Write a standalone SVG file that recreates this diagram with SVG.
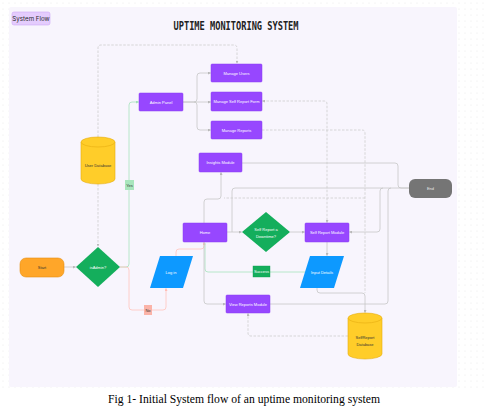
<svg xmlns="http://www.w3.org/2000/svg" width="487" height="414" viewBox="0 0 487 414">
<defs>
<pattern id="dots" x="0" y="0" width="6" height="6" patternUnits="userSpaceOnUse">
<circle cx="3" cy="3" r="0.5" fill="#e2e2e2"/>
</pattern>
<marker id="ah" viewBox="0 0 6 6" refX="5" refY="3" markerWidth="3" markerHeight="3" orient="auto-start-reverse" markerUnits="userSpaceOnUse">
<path d="M0,0 L6,3 L0,6 z" fill="#b8b8b8"/>
</marker>
<marker id="ahg" viewBox="0 0 6 6" refX="5" refY="3" markerWidth="3" markerHeight="3" orient="auto" markerUnits="userSpaceOnUse">
<path d="M0,0 L6,3 L0,6 z" fill="#9fe0b7"/>
</marker>
<marker id="ahp" viewBox="0 0 6 6" refX="5" refY="3" markerWidth="3" markerHeight="3" orient="auto" markerUnits="userSpaceOnUse">
<path d="M0,0 L6,3 L0,6 z" fill="#ffbdb5"/>
</marker>
</defs>
<style>
.lbl{font-family:"Liberation Sans",Arial,sans-serif;font-size:4px;text-anchor:middle;dominant-baseline:central}
.w{fill:#ffffff}
.d{fill:#333333}
.proc{fill:#9747ff;stroke:#8a3cf0;stroke-width:0.5}
.dec{fill:#14ae5c}
.io{fill:#0d99ff}
.db{fill:#ffcd29;stroke:#e5ad10;stroke-width:0.6}
.c{fill:none;stroke:#c6c6c6;stroke-width:0.8}
.dash{fill:none;stroke:#cdcdcd;stroke-width:0.8;stroke-dasharray:2.5,1.5}
.cg{fill:none;stroke:#a6e3bd;stroke-width:0.8}
.cp{fill:none;stroke:#ffc4bd;stroke-width:0.8}
</style>
<rect x="0" y="0" width="487" height="392" fill="url(#dots)"/>
<rect x="9" y="7" width="448" height="380" rx="2" fill="#f8f5fd"/>

<g id="title">
<text x="236" y="30" font-family="DejaVu Sans Mono,Liberation Mono,monospace" font-weight="bold" font-size="12" fill="#222" text-anchor="middle" textLength="125" lengthAdjust="spacingAndGlyphs">UPTIME MONITORING SYSTEM</text>
</g>
<g id="section-label">
<rect x="12" y="12" width="38" height="13" rx="2" fill="#e4ccfd" stroke="#cfa8f7" stroke-width="0.6"/>
<text x="31" y="18.7" font-family="Inter,Liberation Sans,sans-serif" font-size="6.2" fill="#2a2a2a" text-anchor="middle" dominant-baseline="central">System Flow</text>
</g>

<g id="connectors">
<path class="dash" d="M98,137 V48 Q98,45 101,45 H234 Q237,45 237,48 V63" marker-end="url(#ah)"/>
<path class="dash" d="M98,184 V246" marker-end="url(#ah)"/>
<path class="c" d="M64,267 H75.5" marker-end="url(#ah)"/>
<path class="cg" d="M120,267 H126 Q129,267 129,264 V105 Q129,102 132,102 H138.5" marker-end="url(#ahg)"/>
<path class="cp" d="M120,267 H126 Q129,267 129,270 V307 Q129,310 132,310 H163 Q166,310 166,307 V288.5" marker-end="url(#ahp)"/>
<path class="cp" d="M176,256 V252 Q176,249 179,249 H201 Q204,249 204,246 V242.5" marker-end="url(#ahp)"/>
<path class="c" d="M183,102 H194 Q197,102 197,99 V76 Q197,73 200,73 H210.5" marker-end="url(#ah)"/>
<path class="c" d="M183,102 H210.5" marker-end="url(#ah)"/>
<path class="c" d="M194,102 Q197,102 197,105 V127 Q197,130 200,130 H210.5" marker-end="url(#ah)"/>
<path class="c" d="M204,223 V202 Q204,199 207,199 H218 Q221,199 221,196 V172.5" marker-end="url(#ah)"/>
<path class="c" d="M227,232 H241.5" marker-end="url(#ah)"/>
<path class="c" d="M232,232 V191 Q232,188 235,188 H409"/>
<path class="c" d="M242,163 H395 Q398,163 398,166 V185 Q398,188 401,188 H409"/>
<path class="c" d="M383,188 Q380,188 380,191 V229 Q380,232 377,232 H349.5" marker-end="url(#ah)"/>
<path class="c" d="M270,304 H385 Q388,304 388,301 V191 Q388,188 391,188"/>
<path class="c" d="M290,232 H304.5" marker-end="url(#ah)"/>
<path class="c" d="M327,242 V255.5" marker-end="url(#ah)"/>
<path class="cg" d="M305,272 H208 Q205,272 205,269 V243"/>
<path class="c" d="M204,242 V301 Q204,304 207,304 H225.5" marker-end="url(#ah)"/>
<path class="dash" d="M262.5,101 H324 Q327,101 327,104 V222.5" marker-start="url(#ah)" marker-end="url(#ah)"/>
<path class="dash" d="M262,130 H362 Q365,130 365,133 V293"/>
<path class="dash" d="M365,198 H224"/>
<path class="c" d="M317,288 V290 Q317,293 320,293 H362 Q365,293 365,296 V312.5" marker-end="url(#ah)"/>
<path class="dash" d="M348,336 H251 Q248,336 248,333 V313.5" marker-end="url(#ah)"/>
<g id="label-yes">
<rect x="125" y="180" width="9" height="10" fill="#a8e6bd"/>
<text class="lbl d" x="129.5" y="185" font-size="3.6">Yes</text>
</g>
<g id="label-no">
<rect x="144" y="305" width="8" height="10" fill="#fbb3a8"/>
<text class="lbl d" x="148" y="310" font-size="3.6">No</text>
</g>
<g id="label-success">
<rect x="253" y="266" width="17" height="11" fill="#14ae5c" stroke="#0e9a4f" stroke-width="0.4"/>
<text class="lbl w" x="261.5" y="271.5" font-size="3.8">Success</text>
</g>
</g>

<g id="start">
<rect x="20" y="258" width="44" height="19" rx="6" fill="#ffa629" stroke="#e58e10" stroke-width="0.6"/>
<text class="lbl d" x="42" y="267.5">Start</text>
</g>
<g id="isadmin">
<polygon class="dec" points="98,247 120,267 98,287 76,267"/>
<text class="lbl w" x="98" y="267">isAdmin?</text>
</g>
<g id="user-database">
<path class="db" d="M81,142 A17,5 0 0 1 115,142 V179 A17,5 0 0 1 81,179 Z"/>
<path class="db" d="M81,142 A17,5 0 0 0 115,142" fill="none"/>
<text class="lbl d" x="98" y="165">User Database</text>
</g>
<g id="admin-panel">
<rect class="proc" x="139" y="93" width="44" height="18" rx="1"/>
<text class="lbl w" x="161" y="102">Admin Panel</text>
</g>
<g id="manage-users">
<rect class="proc" x="211" y="64" width="51" height="18" rx="1"/>
<text class="lbl w" x="236.5" y="73">Manage Users</text>
</g>
<g id="manage-self-report-form">
<rect class="proc" x="211" y="92" width="51" height="19" rx="1"/>
<text class="lbl w" x="236.5" y="101.5">Manage Self Report Form</text>
</g>
<g id="manage-reports">
<rect class="proc" x="211" y="121" width="51" height="18" rx="1"/>
<text class="lbl w" x="236.5" y="130">Manage Reports</text>
</g>
<g id="insights-module">
<rect class="proc" x="199" y="153" width="43" height="19" rx="1"/>
<text class="lbl w" x="220.5" y="162.5">Insights Module</text>
</g>
<g id="end">
<rect x="409" y="179" width="43" height="19" rx="6" fill="#757575"/>
<text class="lbl" x="430.5" y="188.5" fill="#e6e6e6">End</text>
</g>
<g id="home">
<rect class="proc" x="183" y="223" width="44" height="19" rx="1"/>
<text class="lbl w" x="205" y="232.5">Home</text>
</g>
<g id="self-report-decision">
<polygon class="dec" points="266,212 290,232 266,252 242,232"/>
<text class="lbl w" x="266" y="229">Self Report a</text>
<text class="lbl w" x="266" y="236">Downtime?</text>
</g>
<g id="self-report-module">
<rect class="proc" x="305" y="223" width="44" height="19" rx="1"/>
<text class="lbl w" x="327" y="232.5">Self Report Module</text>
</g>
<g id="log-in">
<polygon class="io" points="160,256 193,256 183,288 150,288"/>
<text class="lbl w" x="171" y="272">Log in</text>
</g>
<g id="input-details">
<polygon class="io" points="310,256 344,256 334,288 300,288"/>
<text class="lbl w" x="322" y="272">Input Details</text>
</g>
<g id="view-reports-module">
<rect class="proc" x="226" y="295" width="44" height="18" rx="1"/>
<text class="lbl w" x="248" y="304">View Reports Module</text>
</g>
<g id="selfreport-database">
<path class="db" d="M348,318 A17,5 0 0 1 382,318 V354 A17,5 0 0 1 348,354 Z"/>
<path class="db" d="M348,318 A17,5 0 0 0 382,318" fill="none"/>
<text class="lbl d" x="365" y="337">SelfReport</text>
<text class="lbl d" x="365" y="344">Database</text>
</g>

<text x="244" y="403" font-family="Liberation Serif,Times New Roman,serif" font-size="12" fill="#000" text-anchor="middle" textLength="272" lengthAdjust="spacingAndGlyphs">Fig 1- Initial System flow of an uptime monitoring system</text>
</svg>
